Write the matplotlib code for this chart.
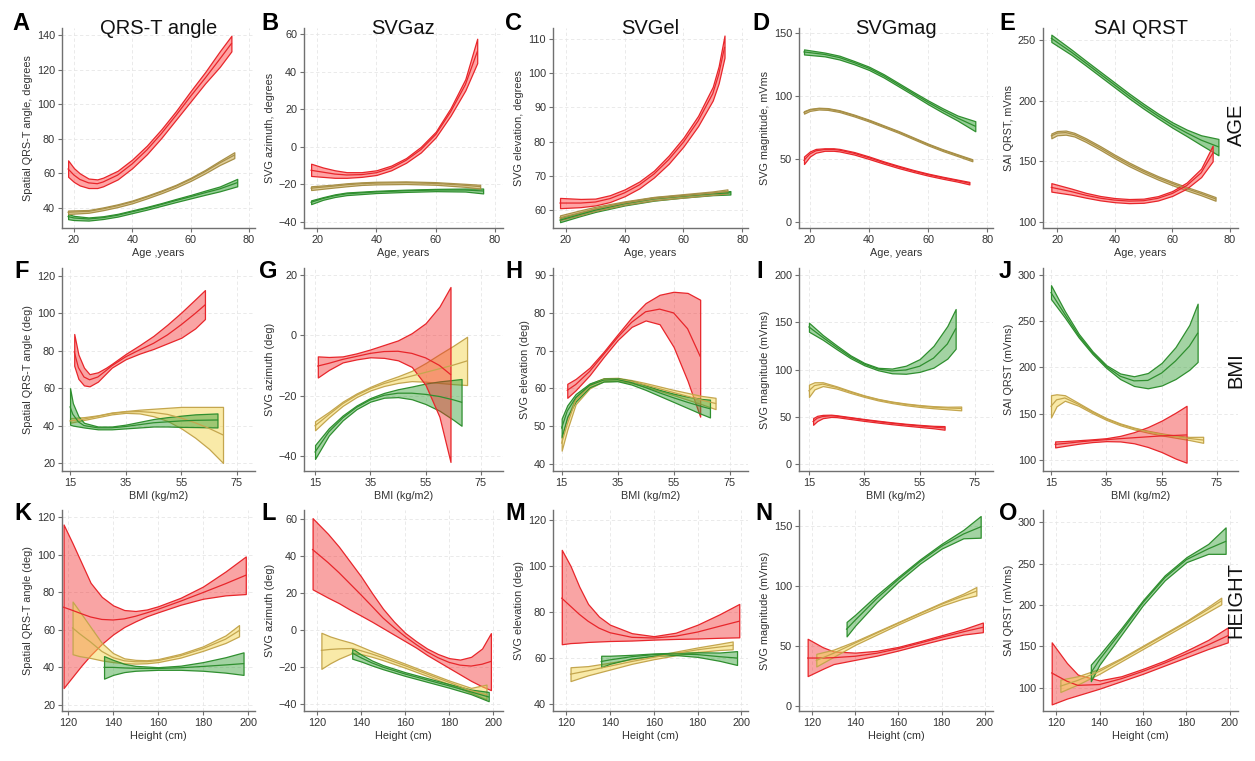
import matplotlib
matplotlib.use("Agg")
import matplotlib.pyplot as plt
import numpy as np

plt.rcParams["font.family"] = ["Liberation Sans", "DejaVu Sans"]

# ---------------------------------------------------------------------------
# Fitted curves with 95% confidence bands: rows of (x, lower, estimate, upper)
# ---------------------------------------------------------------------------

# Row 1: age (years)
A_red = [(18, 58, 62.5, 67.5), (20, 55, 59, 63), (22, 53, 56.5, 60), (25, 51.5, 54.5, 57),
         (28, 51.5, 54, 56.5), (30, 52.5, 55, 57.5), (35, 56.5, 59, 61.5), (40, 63, 65.5, 68),
         (45, 71, 73.5, 76), (50, 80.5, 83, 85.5), (55, 91, 93.5, 96), (60, 101.5, 104.5, 107.5),
         (65, 112, 115, 118.5), (70, 121.5, 126, 130.5), (74, 130.5, 135, 139.5)]
A_tan = [(18, 36.5, 37.5, 38.5), (25, 37.2, 38, 38.8), (30, 38.7, 39.5, 40.3), (35, 40.5, 41.3, 42.1),
         (40, 42.7, 43.5, 44.3), (45, 45.5, 46.3, 47.1), (50, 48.5, 49.3, 50.1), (55, 51.8, 52.6, 53.4),
         (60, 55.6, 56.5, 57.4), (65, 60, 61, 62), (70, 64.8, 66, 67.2), (75, 68.8, 70.5, 72.2)]
A_green = [(18, 33.5, 35, 36.5), (20, 33, 34.2, 35.4), (25, 32.7, 33.6, 34.5), (30, 33.6, 34.4, 35.2),
           (35, 35, 35.8, 36.6), (40, 37, 37.8, 38.6), (45, 39, 39.8, 40.6), (50, 41.2, 42, 42.8),
           (55, 43.4, 44.3, 45.2), (60, 45.5, 46.5, 47.5), (65, 47.6, 48.8, 50), (70, 49.6, 51, 52.4),
           (76, 52.5, 54.6, 56.8)]

B_red = [(18, -15.5, -12.5, -9), (22, -16, -13.5, -11), (26, -16.5, -14.5, -12.5), (30, -16.5, -15, -13.5),
         (35, -16, -14.8, -13.5), (40, -15, -13.8, -12.5), (45, -12.5, -11.3, -10), (50, -8.5, -7.2, -6),
         (55, -3, -1.5, 0), (60, 5, 6.5, 8), (65, 16.5, 18.5, 20.5), (70, 30, 33, 36),
         (74, 44.5, 50.5, 57.5)]
B_tan = [(18, -23, -22, -21), (25, -21.8, -21, -20.2), (30, -21, -20.2, -19.4), (35, -20.3, -19.6, -18.9),
         (40, -20, -19.3, -18.6), (50, -19.8, -19.1, -18.4), (60, -20.2, -19.5, -18.8),
         (70, -21.3, -20.5, -19.7), (75, -22.2, -21.2, -20.2)]
B_green = [(18, -30.5, -29.5, -28.5), (22, -28.2, -27.5, -26.8), (26, -26.7, -26, -25.3),
           (30, -25.7, -25, -24.3), (40, -24.6, -24, -23.4), (50, -24, -23.4, -22.8),
           (60, -23.6, -23, -22.4), (70, -23.8, -23, -22.2), (76, -24.8, -23.5, -22.2)]

C_red = [(18, 60.5, 62, 63.5), (25, 60.8, 62, 63.2), (30, 61.3, 62.3, 63.3), (35, 62.3, 63.3, 64.3),
         (40, 64, 65, 66), (45, 66.3, 67.3, 68.3), (50, 69.5, 70.5, 71.5), (55, 73.5, 74.7, 75.9),
         (60, 78.5, 79.8, 81.1), (65, 84.5, 86, 87.5), (70, 92, 94, 96), (72, 97, 99.5, 102),
         (74, 104.5, 107.5, 111)]
C_tan = [(18, 57, 57.7, 58.4), (25, 58.5, 59.2, 59.9), (30, 59.7, 60.3, 60.9), (40, 61.5, 62, 62.5),
         (50, 62.8, 63.3, 63.8), (60, 63.6, 64.1, 64.6), (70, 64.4, 64.9, 65.4), (75, 64.8, 65.4, 66)]
C_green = [(18, 56.4, 57, 57.6), (25, 58.2, 58.7, 59.2), (30, 59.4, 59.9, 60.4), (40, 61.3, 61.8, 62.3),
           (50, 62.7, 63.2, 63.7), (60, 63.6, 64, 64.4), (70, 64.3, 64.7, 65.1), (76, 64.5, 65, 65.5)]

D_green = [(18, 133, 135, 137), (25, 131.5, 133, 134.5), (30, 129, 130.5, 132), (35, 125.2, 126.5, 127.8),
           (40, 120.7, 122, 123.3), (45, 114.7, 116, 117.3), (50, 107.7, 109, 110.3),
           (55, 100.7, 102, 103.3), (60, 93.5, 95, 96.5), (65, 86.8, 88.5, 90.2), (70, 80.5, 82.5, 84.5),
           (76, 72, 76, 80)]
D_tan = [(18, 86, 87, 88), (20, 88.2, 89, 89.8), (23, 89.3, 90, 90.7), (26, 89, 89.7, 90.4),
         (30, 87.3, 88, 88.7), (35, 83.8, 84.5, 85.2), (40, 79.8, 80.5, 81.2), (45, 75.3, 76, 76.7),
         (50, 70.8, 71.5, 72.2), (55, 65.8, 66.5, 67.2), (60, 60.8, 61.5, 62.2), (65, 56.3, 57, 57.7),
         (70, 52.3, 53, 53.7), (75, 48.2, 49, 49.8)]
D_red = [(18, 46, 49, 52), (20, 52, 54, 56), (22, 55, 56.5, 58), (25, 56.5, 57.5, 58.5),
         (28, 56.5, 57.5, 58.5), (30, 56, 57, 58), (35, 53.5, 54.5, 55.5), (40, 50, 51, 52),
         (45, 46.3, 47.2, 48.1), (50, 42.8, 43.7, 44.6), (55, 39.7, 40.5, 41.3), (60, 36.8, 37.6, 38.4),
         (65, 34.3, 35.1, 35.9), (70, 32, 32.8, 33.6), (74, 29.8, 30.8, 31.8)]

E_green = [(18, 248.5, 251.5, 254.5), (25, 237.8, 240, 242.2), (30, 229, 231, 233), (35, 220, 222, 224),
           (40, 211, 213, 215), (45, 202, 204, 206), (50, 193.5, 195.5, 197.5), (55, 185.5, 187.5, 189.5),
           (60, 177.8, 180, 182.2), (65, 170.8, 173.5, 176.2), (70, 163.5, 167.5, 171.5),
           (76, 155, 162, 168.5)]
E_tan = [(18, 169, 171, 173), (20, 171.5, 173.3, 175), (23, 172, 173.7, 175.4), (26, 170.5, 172, 173.5),
         (30, 166, 167.5, 169), (35, 159.5, 161, 162.5), (40, 152.5, 154, 155.5), (45, 146, 147.5, 149),
         (50, 140.3, 141.7, 143.1), (55, 135, 136.4, 137.8), (60, 130.3, 131.7, 133.1),
         (65, 126, 127.4, 128.8), (70, 122, 123.4, 124.8), (75, 117.5, 119, 120.5)]
E_red = [(18, 125, 128.5, 132), (25, 122.5, 125, 127.5), (30, 120, 122, 124), (35, 117.8, 119.6, 121.4),
         (40, 116.3, 118, 119.7), (45, 115.5, 117.2, 118.9), (50, 115.8, 117.5, 119.2),
         (55, 117.7, 119.5, 121.3), (60, 121.5, 123.5, 125.5), (65, 127.5, 130, 132.5),
         (70, 137, 140.5, 144), (74, 150, 156.5, 163)]

# Row 2: BMI (kg/m2)
F_red = [(16.5, 72, 79.5, 89), (18, 65, 71, 78), (20, 61.5, 66, 71), (22, 61, 64.5, 67.5),
         (25, 63.5, 66, 68.5), (28, 68, 69.5, 71), (30, 71, 72, 73), (35, 75.5, 76.8, 78.3),
         (40, 78.5, 80.5, 83), (45, 81, 84, 88), (50, 84, 88.5, 94), (55, 87, 94, 100.5),
         (60, 92, 100, 107.5), (63.5, 97, 104.5, 112.5)]
F_yellow = [(15, 41.5, 42.5, 44), (20, 43, 43.5, 44.5), (25, 44.5, 45, 45.5), (30, 46, 46.5, 47),
            (35, 46.8, 47.3, 47.8), (40, 46.5, 47.5, 48.5), (45, 45, 47, 49), (50, 42.5, 46, 49.5),
            (55, 38.5, 44, 50), (60, 33.5, 41.5, 50), (65, 27.5, 38.5, 50), (70, 20, 35, 50)]
F_green = [(15, 40.5, 50, 60), (16, 40, 46, 52), (18, 39.5, 42, 45), (20, 39, 40, 41.5),
           (25, 38, 38.8, 39.5), (30, 38, 38.8, 39.5), (35, 38.5, 39.5, 40.5), (40, 39, 40.5, 42),
           (45, 39.5, 41.5, 43.5), (50, 39.5, 42, 44.5), (55, 39.3, 42.5, 45.3), (60, 39.2, 42.8, 46),
           (68, 39, 43, 46.5)]

G_red = [(16, -14, -10.2, -7), (20, -11.5, -9.3, -7.2), (25, -9, -8, -7), (30, -8, -7, -6),
         (35, -7.3, -6, -4.7), (40, -7.5, -5.4, -3.2), (45, -8.3, -5.3, -1.7), (50, -10.5, -6, 0.7),
         (55, -16.5, -7.5, 4), (60, -27, -10, 9.5), (64, -42, -13, 16)]
G_yellow = [(15, -31.5, -30, -28.5), (20, -27.2, -26.3, -25.4), (25, -23.4, -22.7, -22),
            (30, -20.5, -19.9, -19.3), (35, -18.3, -17.7, -17.1), (40, -16.8, -16, -15.2),
            (45, -15.8, -14.7, -13.6), (50, -15.2, -13.5, -11.8), (55, -15.4, -12.3, -9.2),
            (60, -15.8, -11.1, -6.3), (65, -16.2, -9.9, -3.5), (70, -16.5, -8.5, -0.5)]
G_green = [(15, -41, -38.7, -36.4), (20, -33.2, -32, -30.8), (25, -28.2, -27.4, -26.6),
           (30, -24.5, -23.9, -23.3), (35, -22, -21.4, -20.8), (40, -20.7, -19.9, -19.1),
           (45, -20.5, -19.2, -17.9), (50, -21.2, -19.2, -17), (55, -22.8, -19.6, -16),
           (60, -25, -20.3, -15.3), (65, -28, -21.4, -14.8), (68, -30, -22.2, -14.5)]

H_red = [(17, 57.5, 59.5, 61.2), (20, 59.5, 61, 62.5), (25, 63.5, 64.5, 65.5), (30, 68.3, 69, 69.7),
         (35, 72.8, 73.5, 74.3), (40, 76.3, 77.5, 78.8), (45, 78, 80.3, 82.6), (50, 77, 81, 84.8),
         (55, 71, 80, 85.6), (60, 62, 75.8, 85.3), (64.5, 52.5, 68.5, 83.5)]
H_yellow = [(15, 43.5, 45.5, 47.5), (17, 49, 50.5, 52), (20, 55.8, 56.8, 57.8), (25, 60, 60.6, 61.2),
            (30, 61.9, 62.3, 62.7), (35, 62, 62.4, 62.8), (40, 61.4, 61.8, 62.2), (45, 60.4, 60.9, 61.4),
            (50, 59.3, 59.9, 60.5), (55, 58.2, 58.9, 59.6), (60, 57, 57.9, 58.8), (65, 55.8, 56.9, 58),
            (70, 54.5, 56, 57.5)]
H_green = [(15, 47, 49.5, 52), (17, 52.5, 54, 55.5), (20, 56.5, 57.5, 58.5), (25, 60.3, 60.8, 61.3),
           (30, 61.8, 62.2, 62.6), (35, 61.9, 62.3, 62.7), (40, 61, 61.5, 62), (45, 59.6, 60.2, 60.8),
           (50, 58, 58.8, 59.6), (55, 56.4, 57.5, 58.6), (60, 54.8, 56.3, 57.8), (65, 53.2, 55.2, 57.2),
           (68, 52.3, 54.6, 57)]

I_red = [(16.5, 41.5, 45, 48.5), (18, 45.5, 48.5, 51), (20, 48.5, 50.3, 52), (23, 49.8, 51, 52.2),
         (25, 49.6, 50.6, 51.6), (30, 47.6, 48.6, 49.6), (35, 45.6, 46.6, 47.6), (40, 43.8, 44.8, 45.8),
         (45, 42.1, 43.1, 44.1), (50, 40.6, 41.6, 42.6), (55, 39.2, 40.3, 41.4), (60, 37.8, 39.1, 40.4),
         (64, 36.3, 38.2, 40.1)]
I_yellow = [(15, 71, 77.5, 84), (17, 79, 83, 86.5), (20, 82.5, 84.5, 86.5), (25, 79.8, 81, 82.2),
            (30, 75.2, 76.2, 77.2), (35, 71, 71.8, 72.6), (40, 67.3, 68.1, 68.9), (45, 64.5, 65.3, 66.1),
            (50, 62.2, 63.1, 64), (55, 60.4, 61.4, 62.4), (60, 59, 60.1, 61.2), (65, 57.9, 59.3, 60.6),
            (70, 56.8, 58.8, 60.8)]
I_green = [(15, 140, 145, 149.5), (20, 131.5, 134, 136.5), (25, 121.5, 123.5, 125.5), (30, 112, 113.5, 115),
           (35, 104.5, 105.7, 107), (40, 99.2, 100.5, 101.8), (45, 96, 98.5, 101), (50, 95.5, 99.5, 104),
           (55, 97.5, 103.5, 111), (60, 102, 112, 125), (65, 111.5, 127, 146), (68, 122, 143, 164)]

J_red = [(16.5, 113.5, 116.8, 120), (20, 115.2, 117.8, 120.4), (25, 117.5, 119.4, 121.3),
         (30, 119.3, 120.8, 122.3), (35, 120.3, 121.9, 123.5), (40, 120, 123, 126), (45, 118, 124, 130),
         (50, 114, 125, 135.5), (55, 108.5, 126, 142.5), (60, 101.5, 126.5, 151), (64, 97, 127, 158.5)]
J_yellow = [(15, 146, 158, 170), (17, 158, 165, 171), (20, 164, 167, 170), (25, 158.5, 160, 161.5),
            (30, 150.5, 151.7, 152.9), (35, 143.3, 144.3, 145.3), (40, 137.5, 138.5, 139.5),
            (45, 133, 134, 135), (50, 129.5, 130.5, 131.5), (55, 126.5, 127.6, 128.7),
            (60, 124, 125.2, 126.4), (65, 121.5, 123.2, 124.9), (70, 118.5, 121.5, 125)]
J_green = [(15, 274, 281, 289), (20, 254, 257.5, 261), (25, 232.5, 234.5, 236.5), (30, 214.5, 216, 217.5),
           (35, 199.5, 201, 202.5), (40, 187.5, 190.5, 193.5), (45, 180, 185.5, 190.5),
           (50, 177.5, 186, 194), (55, 180.5, 194, 205), (60, 187.5, 207, 222), (65, 197.5, 223, 246),
           (68, 206, 237, 269)]

# Row 3: height (cm)
K_red = [(118, 29, 72, 116), (122, 35, 70.3, 106), (126, 41, 68.5, 95.5), (130, 46.5, 66.8, 85),
         (135, 52.5, 65.5, 77.5), (140, 57.5, 65.2, 73), (145, 61.5, 65.8, 70.5), (150, 64.5, 67.2, 70),
         (155, 67.2, 69, 70.8), (160, 69.3, 70.9, 72.5), (170, 73.3, 75.2, 77), (180, 76.5, 79.8, 83),
         (190, 78.3, 84.5, 91), (199, 79, 89, 99)]
K_yellow = [(122, 47, 61, 75), (125, 46, 58, 70), (130, 45, 53.5, 61.5), (135, 43.7, 48.5, 53),
            (140, 42.8, 45.2, 47.6), (145, 42.2, 43.5, 44.8), (150, 42, 43, 44), (155, 42.2, 43, 43.8),
            (160, 42.8, 43.6, 44.4), (170, 45.2, 46.2, 47.2), (180, 48.8, 50, 51.2), (190, 53, 55, 57),
            (196, 56.5, 59.5, 62.5)]
K_green = [(136, 34, 40, 46), (140, 36, 40, 44), (145, 37.5, 39.7, 41.9), (150, 38.2, 39.5, 40.8),
           (160, 38.7, 39.4, 40.1), (170, 38.7, 39.8, 40.9), (180, 38.2, 40.5, 42.8), (190, 37.2, 41.3, 45.4),
           (198, 36, 42, 48)]

L_red = [(118, 22, 43.5, 60.5), (125, 17.5, 36.5, 52), (130, 14.5, 31, 45), (135, 11, 25, 37),
         (140, 7.8, 19, 29), (145, 4.5, 12.8, 20), (150, 1, 6.5, 11.5), (155, -2.5, 1.3, 4.5),
         (160, -6, -3.5, -1.5), (165, -9.5, -7.8, -6), (170, -13.5, -11.8, -10), (175, -17, -15, -13),
         (180, -20.5, -17.5, -15.2), (185, -24, -19, -16), (190, -27.5, -19.5, -14.5),
         (195, -30.5, -18.5, -10), (199, -32.5, -17, -1.7)]
L_yellow = [(122, -21, -11, -1.5), (126, -18, -10.5, -3.5), (130, -15.5, -10.2, -5), (136, -12.5, -10, -7),
            (140, -13, -11.2, -9), (145, -14.5, -13, -11.5), (150, -16.3, -15, -13.7),
            (160, -20.4, -19.3, -18.2), (170, -24.8, -23.8, -22.8), (180, -29.3, -28.3, -27.3),
            (190, -34, -32.8, -31.3), (197, -37.5, -35, -29.5)]
L_green = [(136, -15.5, -12.5, -10), (140, -17, -15, -13.2), (145, -19.2, -17.8, -16.5),
           (150, -21.2, -20.1, -19), (160, -24.8, -23.8, -22.8), (170, -28, -27, -26),
           (180, -31.2, -30.2, -29.2), (190, -34.7, -33.5, -32.2), (198, -38.5, -36.2, -33.5)]

M_red = [(118, 66, 86, 107), (122, 66.5, 82.5, 100), (126, 66.7, 79, 91), (130, 67, 76, 83.5),
         (135, 67.2, 73, 78), (140, 67.4, 71, 74.5), (150, 67.6, 69, 70.8), (160, 68, 68.7, 69.5),
         (170, 68.3, 69.5, 71), (180, 68.5, 71.3, 74.5), (190, 68.8, 73.8, 79), (199, 69, 76, 83.5)]
M_yellow = [(122, 50, 53, 56), (130, 52.5, 54.5, 56.5), (140, 55, 56.5, 58), (150, 57.5, 58.5, 59.5),
            (160, 59.5, 60.3, 61), (170, 61.2, 62, 62.8), (180, 62.6, 63.6, 64.6), (190, 63.5, 64.8, 66.2),
            (196, 63.8, 65.5, 67.2)]
M_green = [(136, 56, 58.5, 61), (140, 57.5, 59.2, 61), (150, 59.8, 60.6, 61.4), (160, 61, 61.5, 62),
           (170, 61.3, 61.8, 62.3), (180, 60.5, 61.5, 62.5), (190, 58.8, 60.6, 62.4), (198, 57, 60, 63)]

N_red = [(118, 25, 40, 56), (125, 31, 40, 49), (130, 35, 40.3, 45.5), (140, 38.5, 41.5, 44.5),
         (150, 42, 44, 46), (160, 46.3, 47.8, 49.3), (170, 51, 52.5, 54), (180, 55.5, 57.3, 59),
         (190, 59.5, 61.8, 64), (199, 61.5, 65.5, 69.5)]
N_yellow = [(122, 33, 38, 43.5), (130, 41, 44, 47), (140, 51, 52.5, 54), (150, 59.5, 60.8, 62),
            (160, 68, 69, 70), (170, 76, 77, 78), (180, 83.5, 84.8, 86), (190, 89.5, 91.5, 93.5),
            (196, 92, 95.5, 99)]
N_green = [(136, 58, 64, 70), (140, 67, 71.5, 76), (150, 86.5, 89.5, 92.5), (160, 103.5, 105.5, 107.5),
           (170, 118.5, 120.2, 122), (180, 131, 133, 135), (190, 139.5, 143, 146.5), (198, 140, 149, 158)]

O_red = [(118, 80, 118, 155), (125, 87, 108, 130), (130, 91, 103, 116), (140, 99, 104, 109),
         (150, 108, 111, 114), (160, 117, 120, 123), (170, 127, 130, 133), (180, 137, 141, 145),
         (190, 147, 152, 158), (199, 155, 163, 173)]
O_yellow = [(122, 95, 102, 110), (130, 104, 109, 114), (140, 117, 120, 123), (150, 132, 134, 136),
            (160, 147, 149, 151), (170, 162, 164, 166), (180, 177, 179, 181), (190, 192, 195, 198),
            (196, 201, 205, 209)]
O_green = [(136, 108, 118, 128), (140, 128, 134, 140), (150, 164, 168, 172), (160, 200, 203, 206),
           (170, 230, 233, 236), (180, 252, 255, 258), (190, 262, 268, 274), (198, 262, 277, 294)]

# Labels
col_titles = ["QRS-T angle", "SVGaz", "SVGel", "SVGmag", "SAI QRST"]
row_names = ["AGE", "BMI", "HEIGHT"]
panel_letters = list("ABCDEFGHIJKLMNO")
ylabels_age = ["Spatial QRS-T angle, degrees", "SVG azimuth, degrees", "SVG elevation, degrees",
               "SVG magnitude, mVms", "SAI QRST, mVms"]
ylabels_deg = ["Spatial QRS-T angle (deg)", "SVG azimuth (deg)", "SVG elevation (deg)",
               "SVG magnitude (mVms)", "SAI QRST (mVms)"]
xlabels_age = ["Age ,years", "Age, years", "Age, years", "Age, years", "Age, years"]
xlabel_bmi = "BMI (kg/m2)"
xlabel_height = "Height (cm)"

age_ticks = [20, 40, 60, 80]
bmi_ticks = [15, 35, 55, 75]
height_ticks = [120, 140, 160, 180, 200]
yticks_A = [40, 60, 80, 100, 120, 140]
yticks_B = [-40, -20, 0, 20, 40, 60]
yticks_C = [60, 70, 80, 90, 100, 110]
yticks_D = [0, 50, 100, 150]
yticks_E = [100, 150, 200, 250]
yticks_F = [20, 40, 60, 80, 100, 120]
yticks_G = [-40, -20, 0, 20]
yticks_H = [40, 50, 60, 70, 80, 90]
yticks_I = [0, 50, 100, 150, 200]
yticks_J = [100, 150, 200, 250, 300]
yticks_K = [20, 40, 60, 80, 100, 120]
yticks_L = [-40, -20, 0, 20, 40, 60]
yticks_M = [40, 60, 80, 100, 120]
yticks_N = [0, 50, 100, 150]
yticks_O = [100, 150, 200, 250, 300]

# ---------------------------------------------------------------------------
W, H = 1255, 761
fig = plt.figure(figsize=(W / 100, H / 100), dpi=100)

STYLE = {
    "red": ("#e8262b", (0.95, 0.15, 0.15, 0.42)),
    "yellow": ("#c4a64e", (0.96, 0.84, 0.32, 0.50)),
    "green": ("#2f8f2f", (0.20, 0.62, 0.20, 0.45)),
    "tan": ("#a89048", (0.78, 0.66, 0.30, 0.55)),
    "red1": ("#e8262b", (1.0, 0.35, 0.35, 0.55)),
    "green1": ("#2f8f2f", (0.25, 0.65, 0.25, 0.55)),
}

col_left = [62, 304, 553, 799, 1043]
col_right = [255, 503, 748, 993, 1238]
row_top = [28, 268, 510]
row_bot = [228, 471, 711]


def make_axes(r, c, xlim, ylim, xticks, yticks):
    l, rr = col_left[c], col_right[c]
    t, b = row_top[r], row_bot[r]
    ax = fig.add_axes([l / W, 1 - b / H, (rr - l) / W, (b - t) / H])
    ax.set_xlim(*xlim)
    ax.set_ylim(*ylim)
    ax.set_xticks(xticks)
    ax.set_yticks(yticks)
    for s in ("top", "right"):
        ax.spines[s].set_visible(False)
    for s in ("left", "bottom"):
        ax.spines[s].set_color("#707070")
        ax.spines[s].set_linewidth(1.0)
    ax.tick_params(direction="out", length=3, width=0.8, color="#707070",
                   labelsize=7.8, labelcolor="#333333", pad=2)
    ax.grid(True, color="#e6e6e6", linestyle=(0, (4, 3)), linewidth=0.6)
    ax.set_axisbelow(True)
    return ax


def band(ax, rows, style):
    arr = np.array(rows, dtype=float)
    x, lo, mid, hi = arr[:, 0], arr[:, 1], arr[:, 2], arr[:, 3]
    edge, face = STYLE[style]
    ax.fill_between(x, lo, hi, facecolor=face, edgecolor=edge, linewidth=0.9, zorder=2)
    ax.plot(x, mid, color=edge, linewidth=0.9, zorder=3)


panels = [
    # row 1 (age)
    (0, 0, (15.9, 82.1), (28.4, 144), age_ticks, yticks_A, [(A_green, "green1"), (A_tan, "tan"), (A_red, "red1")]),
    (0, 1, (15.6, 82.7), (-43.2, 63.2), age_ticks, yticks_B, [(B_green, "green1"), (B_tan, "tan"), (B_red, "red1")]),
    (0, 2, (15.6, 82.0), (54.7, 113.2), age_ticks, yticks_C, [(C_red, "red1"), (C_green, "green1"), (C_tan, "tan")]),
    (0, 3, (16.3, 82.0), (-4.8, 154), age_ticks, yticks_D, [(D_green, "green1"), (D_tan, "tan"), (D_red, "red1")]),
    (0, 4, (15.1, 82.8), (95, 260), age_ticks, yticks_E, [(E_green, "green1"), (E_tan, "tan"), (E_red, "red1")]),
    # row 2 (BMI)
    (1, 0, (12.1, 81.5), (15.7, 124.3), bmi_ticks, yticks_F, [(F_red, "red"), (F_yellow, "yellow"), (F_green, "green")]),
    (1, 1, (11.0, 83.0), (-45, 22.3), bmi_ticks, yticks_G, [(G_yellow, "yellow"), (G_green, "green"), (G_red, "red")]),
    (1, 2, (11.9, 81.6), (38.1, 91.9), bmi_ticks, yticks_H, [(H_red, "red"), (H_yellow, "yellow"), (H_green, "green")]),
    (1, 3, (11.4, 81.5), (-7.4, 207.4), bmi_ticks, yticks_I, [(I_green, "green"), (I_yellow, "yellow"), (I_red, "red")]),
    (1, 4, (12.1, 82.6), (88, 307.6), bmi_ticks, yticks_J, [(J_green, "green"), (J_yellow, "yellow"), (J_red, "red")]),
    # row 3 (height)
    (2, 0, (117.3, 203.1), (16.8, 123.7), height_ticks, yticks_K, [(K_red, "red"), (K_yellow, "yellow"), (K_green, "green")]),
    (2, 1, (114.1, 204.5), (-43.8, 64.9), height_ticks, yticks_L, [(L_red, "red"), (L_yellow, "yellow"), (L_green, "green")]),
    (2, 2, (114.0, 203.0), (37.0, 124.3), height_ticks, yticks_M, [(M_red, "red"), (M_yellow, "yellow"), (M_green, "green")]),
    (2, 3, (114.0, 203.7), (-4.0, 163), height_ticks, yticks_N, [(N_red, "red"), (N_yellow, "yellow"), (N_green, "green")]),
    (2, 4, (114.0, 203.7), (72, 315), height_ticks, yticks_O, [(O_red, "red"), (O_yellow, "yellow"), (O_green, "green")]),
]

for i, (r, c, xlim, ylim, xt, yt, series) in enumerate(panels):
    ax = make_axes(r, c, xlim, ylim, xt, yt)
    for rows, style in series:
        band(ax, rows, style)
    if r == 0:
        ax.set_ylabel(ylabels_age[c], fontsize=7.8, color="#333333", labelpad=3)
        ax.set_xlabel(xlabels_age[c], fontsize=7.8, color="#333333", labelpad=2)
    else:
        ax.set_ylabel(ylabels_deg[c], fontsize=7.8, color="#333333", labelpad=3)
        ax.set_xlabel(xlabel_bmi if r == 1 else xlabel_height, fontsize=7.8,
                      color="#333333", labelpad=2)

# Column titles
for c, title in enumerate(col_titles):
    xc = (col_left[c] + col_right[c]) / 2
    fig.text(xc / W, 1 - 28 / H, title, ha="center", va="center", fontsize=14.5, color="#111111")

# Panel letters
letter_pos = [(12, 24), (261, 24), (505, 24), (752, 24), (999, 24),
              (14, 271), (259, 271), (505, 271), (756, 271), (999, 271),
              (14, 513), (261, 513), (505, 513), (755, 513), (999, 513)]
for letter, (px, py) in zip(panel_letters, letter_pos):
    fig.text(px / W, 1 - py / H, letter, ha="left", va="center", fontsize=17,
             fontweight="bold", color="black")

# Row names
for name, py in zip(row_names, [125, 370, 600]):
    fig.text(1236 / W, 1 - py / H, name, ha="center", va="center", rotation=90,
             fontsize=14.5, color="#111111")

fig.savefig("out.png", dpi=100)
